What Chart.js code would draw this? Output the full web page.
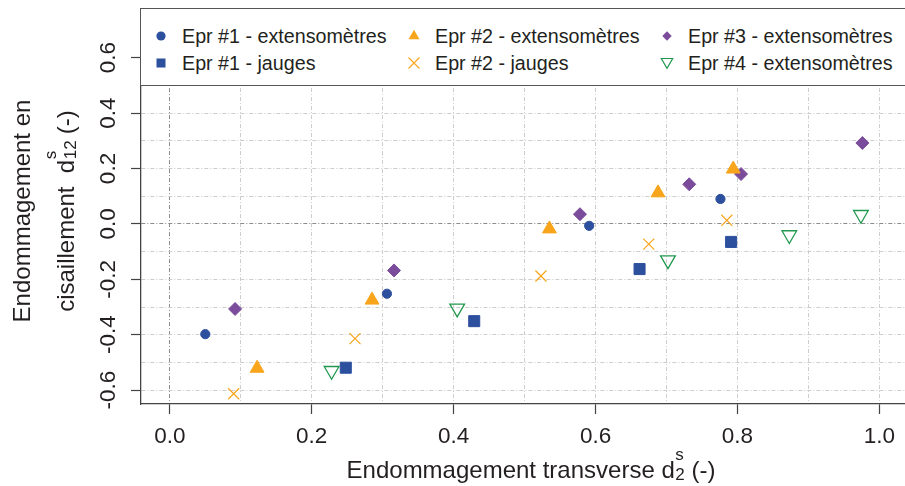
<!DOCTYPE html>
<html>
<head>
<meta charset="utf-8">
<script src="https://cdn.jsdelivr.net/npm/chart.js@4.4.0/dist/chart.umd.min.js"></script>
<style>
    html, body { margin: 0; padding: 0; overflow: hidden; background: #fff; }
    #wrap { position: relative; width: 905px; height: 486px; overflow: hidden;
            font-family: "Liberation Sans", Arial, sans-serif; color: #231f20; }
    #chart { position: absolute; left: 0; top: 0; }
    #legend { position: absolute; left: 140px; top: 8px; width: 800px; height: 78px;
              border: 1.3px solid #555; background: #fff; box-sizing: border-box; }
    .leg-mark { position: absolute; width: 16px; height: 16px; }
    .leg-text { position: absolute; font-size: 19.7px; line-height: 24px; white-space: nowrap; }
    .title { position: absolute; font-size: 24px; white-space: nowrap; text-align: center; }
    .ss { display: inline-block; position: relative; height: 0; }
    .ss i { position: absolute; left: 0.5px; font-style: normal; font-size: 17px; line-height: 17px; }
    .ss .sp { top: -32.1px; }
    .ss .sb { top: -11.8px; }
</style>
</head>
<body>
<div id="wrap">
    <canvas id="chart"></canvas>
    <div id="legend"></div>
    <div class="title" id="x-title" style="left:231px; top:455px; width:600px; line-height:30px;">
        Endommagement transverse d<span class="ss" style="width:10px"><i class="sp">s</i><i class="sb">2</i></span> (-)
    </div>
    <div class="title" id="y-title" style="left:-100px; top:161px; width:300px; height:100px; transform:rotate(-90deg);">
        <div style="line-height:44px;">Endommagement en</div>
        <div style="line-height:44px;">cisaillement&nbsp; d<span class="ss" style="width:19px"><i class="sp">s</i><i class="sb">12</i></span> (-)</div>
    </div>
</div>
<script>
// --- Data ---
const seriesNames = [
    'Epr #1 - extensomètres',
    'Epr #1 - jauges',
    'Epr #2 - extensomètres',
    'Epr #2 - jauges',
    'Epr #3 - extensomètres',
    'Epr #4 - extensomètres'
];
const epr1ExtX = [0.050, 0.306, 0.591, 0.776];
const epr1ExtY = [-0.398, -0.252, -0.007, 0.090];
const epr1JauX = [0.248, 0.429, 0.662, 0.791];
const epr1JauY = [-0.519, -0.351, -0.163, -0.065];
const epr2ExtX = [0.123, 0.285, 0.535, 0.688, 0.794];
const epr2ExtY = [-0.521, -0.275, -0.018, 0.112, 0.198];
const epr2JauX = [0.090, 0.261, 0.523, 0.675, 0.785];
const epr2JauY = [-0.613, -0.414, -0.188, -0.073, 0.013];
const epr3ExtX = [0.092, 0.316, 0.578, 0.732, 0.805, 0.976];
const epr3ExtY = [-0.307, -0.168, 0.035, 0.143, 0.180, 0.292];
const epr4ExtX = [0.228, 0.405, 0.702, 0.873, 0.974];
const epr4ExtY = [-0.530, -0.305, -0.131, -0.040, 0.033];

const xTickLabels = ['0.0', '0.2', '0.4', '0.6', '0.8', '1.0'];
const yTickLabels = ['-0.6', '-0.4', '-0.2', '0.0', '0.2', '0.4', '0.6'];

// --- Styles ---
const BLUE = '#2c4f9e';
const ORANGE = '#f8a51c';
const PURPLE = '#7b4c9b';
const GREEN = '#22984f';
const FONT = '"Liberation Sans", Arial, sans-serif';

const toPoints = (xs, ys) => xs.map((x, i) => ({ x: x, y: ys[i] }));

const styles = [
    { color: BLUE, pointStyle: 'circle', radius: 4.6, fill: true },
    { color: BLUE, pointStyle: 'rect', radius: 7.8, fill: true },
    { color: ORANGE, pointStyle: 'triangle', radius: 8, fill: true },
    { color: ORANGE, pointStyle: 'crossRot', radius: 7.8, fill: false, width: 1.2 },
    { color: PURPLE, pointStyle: 'rectRot', radius: 6.5, fill: true },
    { color: GREEN, pointStyle: 'triangle', radius: 8.5, fill: false, rotation: 180, width: 1.3 }
];
const seriesData = [
    toPoints(epr1ExtX, epr1ExtY),
    toPoints(epr1JauX, epr1JauY),
    toPoints(epr2ExtX, epr2ExtY),
    toPoints(epr2JauX, epr2JauY),
    toPoints(epr3ExtX, epr3ExtY),
    toPoints(epr4ExtX, epr4ExtY)
];

const datasets = seriesNames.map((name, i) => {
    const s = styles[i];
    return {
        label: name,
        data: seriesData[i],
        pointStyle: s.pointStyle,
        pointRadius: s.radius,
        pointRotation: s.rotation || 0,
        pointBackgroundColor: s.fill ? s.color : 'rgba(0,0,0,0)',
        pointBorderColor: s.color,
        pointBorderWidth: s.width || 1,
        showLine: false
    };
});

// ticks every 0.1 for the grid, labels every 0.2
const tenths = v => Math.round(v * 10);
const isMajor = v => tenths(v) % 2 === 0;
const labelFor = (list, v) => {
    const txt = (tenths(v) / 10).toFixed(1);
    return isMajor(v) && list.includes(txt) ? txt : '';
};
// force ticks onto round tenths inside the axis range
const tenthTicks = scale => {
    const ticks = [];
    for (let k = Math.ceil(scale.min * 10); k <= Math.floor(scale.max * 10); k++) {
        ticks.push({ value: k / 10 });
    }
    scale.ticks = ticks;
};
const gridColor = c => (c.tick && tenths(c.tick.value) === 0) ? '#8c8c8c' : '#cdcdcd';
const tickColor = c => (c.tick && isMajor(c.tick.value)) ? '#444' : 'rgba(0,0,0,0)';

const canvas = document.getElementById('chart');
canvas.width = 920;
canvas.height = 486;
canvas.style.width = '920px';
canvas.style.height = '486px';

new Chart(canvas.getContext('2d'), {
    type: 'scatter',
    data: { datasets: datasets },
    options: {
        responsive: false,
        animation: false,
        devicePixelRatio: 1,
        layout: { padding: { left: 0, top: 9, right: 5, bottom: 0 } },
        plugins: { legend: { display: false }, tooltip: { enabled: false } },
        scales: {
            x: {
                type: 'linear',
                min: -0.0406,
                max: 1.0434,
                afterBuildTicks: tenthTicks,
                afterFit: scale => { scale.height = 82; },
                ticks: {
                    autoSkip: false,
                    maxRotation: 0,
                    padding: 9.5,
                    color: '#231f20',
                    font: { family: FONT, size: 22.5 },
                    callback: v => labelFor(xTickLabels, v)
                },
                grid: { color: gridColor, lineWidth: 1, tickColor: tickColor, tickLength: 10, tickWidth: 1.2 },
                border: { display: true, color: '#444', width: 1.3, dash: [4, 2, 1, 2] }
            },
            y: {
                type: 'linear',
                min: -0.65,
                max: 0.75,
                afterBuildTicks: tenthTicks,
                afterFit: scale => { scale.width = 141; },
                ticks: {
                    autoSkip: false,
                    minRotation: 90,
                    maxRotation: 90,
                    crossAlign: 'center',
                    padding: 2.6,
                    color: '#231f20',
                    font: { family: FONT, size: 22.5 },
                    callback: v => labelFor(yTickLabels, v)
                },
                grid: { color: gridColor, lineWidth: 1, tickColor: tickColor, tickLength: 10, tickWidth: 1.2 },
                border: { display: true, color: '#444', width: 1.3, dash: [4, 2, 1, 2] }
            }
        }
    }
});

// --- Legend (R style, filled column by column) ---
function markerSvg(i) {
    const s = styles[i];
    const c = s.color;
    let shape = '';
    if (s.pointStyle === 'circle') shape = `<circle cx="8" cy="8" r="4.6" fill="${c}"/>`;
    else if (s.pointStyle === 'rect') shape = `<rect x="3.5" y="3.5" width="9" height="9" fill="${c}"/>`;
    else if (s.pointStyle === 'crossRot') shape = `<path d="M2.5 2.5 L13.5 13.5 M13.5 2.5 L2.5 13.5" stroke="${c}" stroke-width="1.1"/>`;
    else if (s.pointStyle === 'rectRot') shape = `<path d="M8 3.3 L12.7 8 L8 12.7 L3.3 8 Z" fill="${c}"/>`;
    else if (s.rotation) shape = `<path d="M2.3 3.5 L13.7 3.5 L8 13.3 Z" fill="none" stroke="${c}" stroke-width="1.2"/>`;
    else shape = `<path d="M8 1.7 L13.5 11.3 L2.5 11.3 Z" fill="${c}"/>`;
    return `<svg class="leg-mark" viewBox="0 0 16 16">${shape}</svg>`;
}

const legend = document.getElementById('legend');
const colMarkX = [160, 413, 666];
const rowY = [35, 61.5];
seriesNames.forEach((name, i) => {
    const col = Math.floor(i / 2);
    const row = i % 2;
    const mx = colMarkX[col] - 140;
    const my = rowY[row] - 8;
    const wrap = document.createElement('div');
    wrap.innerHTML = markerSvg(i);
    const svg = wrap.firstChild;
    svg.style.left = (mx - 8) + 'px';
    svg.style.top = (my - 8) + 'px';
    legend.appendChild(svg);
    const txt = document.createElement('div');
    txt.className = 'leg-text';
    txt.textContent = name;
    txt.style.left = (mx + 21) + 'px';
    txt.style.top = (my - 12) + 'px';
    legend.appendChild(txt);
});
</script>
</body>
</html>
